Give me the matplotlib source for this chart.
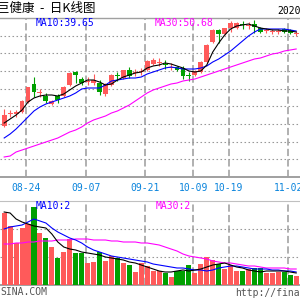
import numpy as np
import matplotlib
matplotlib.use("Agg")
import matplotlib.pyplot as plt

# ---------------- data ----------------
dates = ["08-18", "08-19", "08-20", "08-21", "08-24", "08-25", "08-26", "08-27", "08-28",
         "08-31", "09-01", "09-02", "09-03", "09-04", "09-07", "09-08", "09-09", "09-10",
         "09-11", "09-14", "09-15", "09-16", "09-17", "09-18", "09-21", "09-22", "09-23",
         "09-24", "09-25", "09-28", "09-29", "09-30", "10-09", "10-12", "10-13", "10-14",
         "10-15", "10-16", "10-19", "10-20", "10-21", "10-22", "10-23", "10-26", "10-27",
         "10-28", "10-29", "10-30", "11-02", "11-03"]
tick_labels = ["08-24", "09-07", "09-21", "10-09", "10-19", "11-02"]

open_ = [7.4, 8.65, 8.6, 8.8, 9.8, 11.6, 10.75, 10.4, 9.6, 10.4, 10.4, 11.5, 12.8, 12.1,
         11.85, 11.7, 11.7, 10.6, 11.5, 12.45, 12.2, 13.0, 12.75, 12.85, 13.0, 13.6, 13.75,
         13.55, 13.25, 13.3, 13.2, 12.45, 12.5, 12.8, 13.8, 15.8, 17.0, 16.6, 17.2, 17.2,
         17.55, 17.45, 17.6, 17.2, 16.95, 16.85, 16.85, 17.1, 17.0, 16.65]
close = [8.5, 8.7, 8.8, 9.9, 11.3, 10.8, 10.8, 9.9, 9.9, 10.0, 11.3, 12.7, 12.5, 11.7,
         11.9, 12.0, 10.8, 11.6, 12.5, 12.4, 13.0, 12.4, 12.8, 12.9, 13.9, 14.0, 13.8,
         13.5, 13.3, 13.0, 12.4, 12.4, 12.9, 13.8, 15.5, 17.0, 16.6, 17.2, 17.7, 17.7,
         17.5, 17.5, 17.3, 16.8, 17.0, 16.9, 16.9, 16.8, 16.7, 16.7]
high = [9.1, 9.0, 9.0, 10.0, 11.3, 12.3, 11.1, 10.7, 10.0, 10.6, 11.4, 12.8, 12.9, 12.3,
        12.3, 12.6, 12.0, 11.7, 12.6, 12.8, 13.0, 13.3, 13.1, 13.2, 14.0, 14.2, 14.2,
        14.0, 13.7, 13.4, 13.4, 12.8, 13.0, 13.9, 15.6, 17.1, 17.1, 17.2, 17.9, 17.8,
        17.9, 17.8, 18.0, 17.3, 17.2, 17.1, 17.1, 17.2, 17.1, 16.9]
low = [7.3, 8.3, 8.3, 8.7, 9.7, 10.3, 10.3, 9.7, 9.5, 9.7, 10.3, 11.4, 11.7, 11.5,
       11.5, 11.5, 10.5, 10.4, 11.4, 11.9, 12.1, 12.2, 12.4, 12.5, 12.9, 13.5, 13.4,
       13.1, 13.0, 12.9, 12.1, 11.9, 12.4, 12.7, 13.7, 15.7, 15.7, 16.5, 16.8, 17.1,
       17.1, 17.1, 16.7, 16.7, 16.7, 16.6, 16.6, 16.7, 16.6, 16.4]
ma5 = [7.7, 8.1, 8.5, 9.0, 9.8, 10.2, 10.4, 10.5, 10.5, 10.4, 10.6, 11.0, 11.4, 11.7,
       12.0, 12.0, 11.8, 11.5, 11.6, 12.0, 12.3, 12.5, 12.7, 12.8, 13.2, 13.4, 13.5,
       13.7, 13.6, 13.4, 13.2, 12.9, 12.8, 12.9, 13.5, 14.8, 15.7, 16.5, 17.1, 17.4,
       17.5, 17.6, 17.4, 17.2, 17.1, 17.0, 17.0, 16.9, 16.9, 16.8]
ma10 = [6.2, 6.6, 7.1, 7.7, 8.3, 8.9, 9.3, 9.6, 9.8, 10.0, 10.2, 10.4, 10.7, 11.1,
        11.2, 11.2, 11.2, 11.5, 11.9, 12.0, 12.1, 12.2, 12.2, 12.3, 12.6, 12.8, 13.0,
        13.2, 13.3, 13.2, 13.1, 13.1, 13.1, 13.2, 13.4, 13.8, 14.1, 14.5, 14.9, 15.4,
        15.9, 16.4, 16.8, 17.1, 17.1, 17.1, 17.1, 17.1, 17.0, 16.9]
ma30 = [4.3, 4.4, 4.8, 5.0, 5.2, 5.4, 5.6, 5.8, 6.0, 6.2, 6.5, 6.8, 7.0, 7.3,
        7.7, 8.0, 8.2, 8.4, 8.7, 8.9, 9.2, 9.5, 9.9, 10.3, 10.7, 11.0, 11.2,
        11.4, 11.6, 11.7, 11.9, 12.0, 12.1, 12.3, 12.5, 12.7, 12.9, 13.1, 13.3, 13.5,
        13.7, 13.9, 14.1, 14.2, 14.4, 14.6, 14.7, 14.9, 15.0, 15.1]
volume = [72, 59, 42, 57, 61, 78, 52, 47, 38, 27, 33, 46, 32, 32, 22, 23, 33, 24, 29, 27,
          22, 20, 13, 22, 19, 14, 14, 12, 8, 14, 14, 20, 12, 21, 28, 25, 21, 16, 20, 14,
          14, 16, 17, 17, 12, 12, 13, 13, 10, 9]
vol_ma5 = [73, 72, 66, 63, 61, 59, 58, 57, 51, 43, 38, 36, 35, 33, 32, 31, 30, 28, 27, 26,
           25, 23, 22, 20, 18, 16, 14, 13, 13, 14, 15, 14, 15, 16, 18, 20, 21, 22, 20, 18,
           17, 15, 14, 13, 14, 14, 14, 14, 13, 12]
vol_ma10 = [56, 58, 59, 60, 63, 66, 64, 62, 57, 53, 50, 47, 45, 42, 38, 35, 33, 31, 29, 28,
            27, 26, 25, 24, 23, 21, 20, 19, 18, 17, 17, 16, 15, 15, 14, 15, 17, 18, 19, 19,
            18, 17, 16, 16, 16, 15, 15, 14, 14, 13]
vol_ma30 = [41, 41, 42, 42, 43, 43, 44, 44, 44, 45, 45, 45, 46, 46, 46, 45, 45, 45, 44, 44,
            43, 43, 43, 42, 42, 41, 40, 38, 36, 34, 31, 29, 28, 27, 26, 24, 23, 22, 22, 21,
            20, 19, 19, 18, 17, 17, 17, 17, 16, 16]

title = "巨健康  -  日K线图"
year_label = "2020"
ma_price_labels = ["MA10:39.65", "MA30:50.68"]
ma_vol_labels = ["MA10:2", "MA30:2"]

# ---------------- style ----------------
RED = "#ff5a5a"
GREEN = "#00a000"
BLUE = "#0000ff"
MAG = "#ff00ff"
DATE_C = "#0a84dc"
GRID = "#aaaaaa"
MONO = "DejaVu Sans Mono"

W, H = 300, 300
fig = plt.figure(figsize=(3, 3), dpi=100)
fig.patch.set_facecolor("white")

def fy(px):
    return 1 - px / H

ax1 = fig.add_axes([0, fy(177), 1, (177 - 18) / H])
ax2 = fig.add_axes([0, fy(285), 1, (285 - 201) / H])

x = np.arange(len(dates))
o = np.array(open_); c = np.array(close)
up = c >= o
cols = [RED if u else GREEN for u in up]

xlim = (-0.70, 49.64)
tick_pos = [dates.index(t) - 0.3 for t in tick_labels]

# price panel
ylo, yhi = 2.3, 18.2
for ax in (ax1, ax2):
    ax.set_xlim(*xlim)
    ax.set_facecolor("white")
    for s in ("left", "right"):
        ax.spines[s].set_visible(False)
    for s in ("top", "bottom"):
        ax.spines[s].set_color("#a0a0a0")
    ax.set_xticks(tick_pos)
    ax.tick_params(axis="y", left=False, labelleft=False)
    ax.xaxis.grid(True, color=GRID, linewidth=1.3, linestyle=(0, (4, 1.8)))
    ax.yaxis.grid(True, color="#999999", linewidth=0.8, linestyle=(0, (1.4, 2.2)))
    ax.set_axisbelow(True)

ax1.spines["bottom"].set_linewidth(1.4)
ax1.spines["top"].set_linewidth(1.0)
ax2.spines["top"].set_color("#c0c0c0")
ax2.spines["bottom"].set_linewidth(1.4)

ax1.set_ylim(ylo, yhi)
ax1.set_yticks(np.linspace(ylo, yhi, 10)[1:-1])
ax1.set_xticklabels(tick_labels, fontfamily=MONO, fontsize=7, color=DATE_C)
ax1.tick_params(axis="x", length=0, pad=4.2)

ax1.vlines(x, low, high, colors=cols, linewidth=0.8, zorder=3)
body_h = np.maximum(np.abs(c - o), 0.09)
ax1.bar(x, body_h, bottom=np.minimum(o, c), width=0.82, color=cols, linewidth=0, zorder=4)
ax1.plot(x, ma30, color=MAG, linewidth=0.8, zorder=5)
ax1.plot(x, ma10, color=BLUE, linewidth=0.8, zorder=5)
ax1.plot(x, ma5, color="black", linewidth=0.8, zorder=6)

# volume panel
ax2.set_ylim(0, 84)
ax2.set_yticks([28, 56])
ax2.tick_params(axis="x", length=0, labelbottom=False)
ax2.bar(x, volume, width=0.85, color=cols, linewidth=0, zorder=3)
ax2.plot(x, vol_ma30, color=MAG, linewidth=0.8, zorder=5)
ax2.plot(x, vol_ma10, color=BLUE, linewidth=0.8, zorder=5)
ax2.plot(x, vol_ma5, color="black", linewidth=0.8, zorder=6)

# texts
fig.text(-3 / W, fy(8), title, fontsize=9, family=["Noto Sans CJK SC", "DejaVu Sans"],
         ha="left", va="center", color="black")
fig.text(277 / W, fy(11.5), year_label, fontfamily=MONO, fontsize=7, ha="left", va="center")
fig.text(36 / W, fy(23), ma_price_labels[0], fontfamily=MONO, fontsize=7, color=BLUE,
         ha="left", va="center")
fig.text(155 / W, fy(23.5), ma_price_labels[1], fontfamily=MONO, fontsize=7, color=MAG,
         ha="left", va="center")
fig.text(36 / W, fy(206), ma_vol_labels[0], fontfamily=MONO, fontsize=7, color=BLUE,
         ha="left", va="center")
fig.text(156 / W, fy(206), ma_vol_labels[1], fontfamily=MONO, fontsize=7, color=MAG,
         ha="left", va="center")
fig.text(0, fy(292), "SINA.COM", fontfamily=MONO, fontsize=7, color="#555555",
         ha="left", va="center")
fig.text(235 / W, fy(292.5), "http://finance.sina.com.cn", fontfamily=MONO, fontsize=7,
         color="#555555", ha="left", va="center")

fig.savefig("out.png", dpi=100)
